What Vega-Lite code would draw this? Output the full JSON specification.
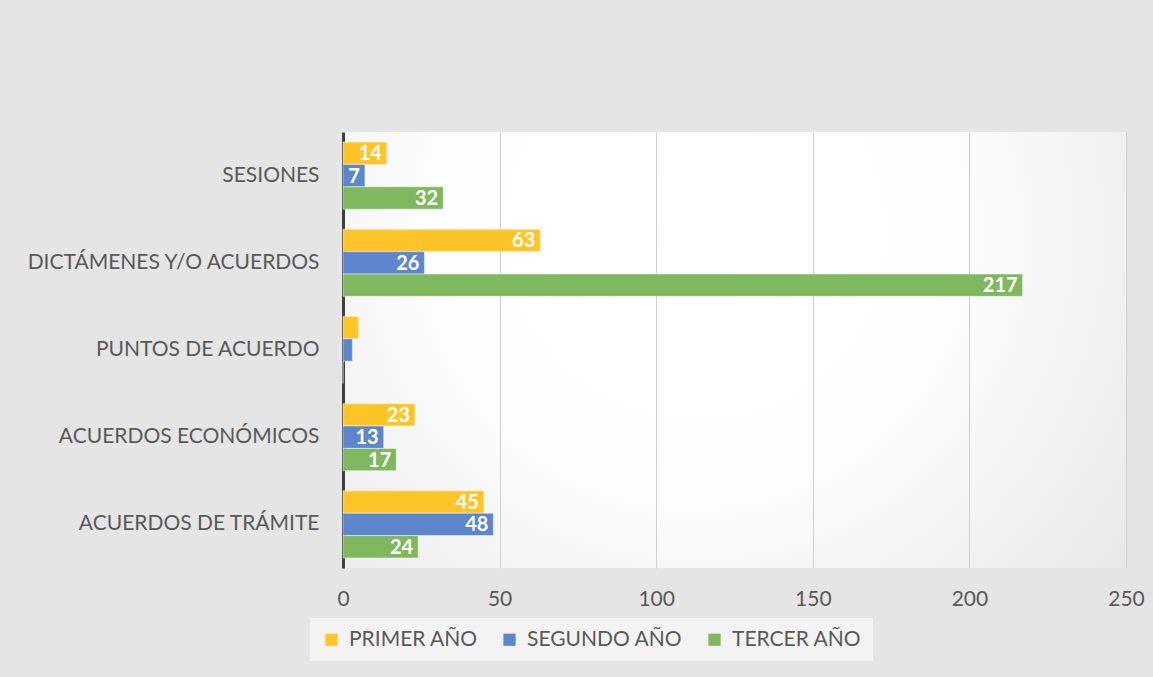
{
  "$schema": "https://vega.github.io/schema/vega-lite/v6.json",
  "width": 783,
  "height": 436,
  "autosize": {"type": "none"},
  "padding": {"left": 343, "top": 132, "right": 27, "bottom": 109},
  "background": "#e5e5e5",
  "config": {
    "font": "Lato",
    "view": {"stroke": null, "fill": {"gradient": "radial", "x1": 0.45, "y1": 0.35, "r1": 0, "x2": 0.45, "y2": 0.35, "r2": 0.75, "stops": [{"offset": 0, "color": "#ffffff"}, {"offset": 0.45, "color": "#fdfdfd"}, {"offset": 1, "color": "#e5e5e5"}]}},
    "axis": {"labelFont": "Lato", "labelColor": "#595959", "labelFontSize": 21, "title": null}
  },
  "data": {"values": [
    {"categoria": "SESIONES", "serie": "PRIMER AÑO", "valor": 14},
    {"categoria": "SESIONES", "serie": "SEGUNDO AÑO", "valor": 7},
    {"categoria": "SESIONES", "serie": "TERCER AÑO", "valor": 32},
    {"categoria": "DICTÁMENES Y/O ACUERDOS", "serie": "PRIMER AÑO", "valor": 63},
    {"categoria": "DICTÁMENES Y/O ACUERDOS", "serie": "SEGUNDO AÑO", "valor": 26},
    {"categoria": "DICTÁMENES Y/O ACUERDOS", "serie": "TERCER AÑO", "valor": 217},
    {"categoria": "PUNTOS DE ACUERDO", "serie": "PRIMER AÑO", "valor": 5},
    {"categoria": "PUNTOS DE ACUERDO", "serie": "SEGUNDO AÑO", "valor": 3},
    {"categoria": "PUNTOS DE ACUERDO", "serie": "TERCER AÑO", "valor": 0},
    {"categoria": "ACUERDOS ECONÓMICOS", "serie": "PRIMER AÑO", "valor": 23},
    {"categoria": "ACUERDOS ECONÓMICOS", "serie": "SEGUNDO AÑO", "valor": 13},
    {"categoria": "ACUERDOS ECONÓMICOS", "serie": "TERCER AÑO", "valor": 17},
    {"categoria": "ACUERDOS DE TRÁMITE", "serie": "PRIMER AÑO", "valor": 45},
    {"categoria": "ACUERDOS DE TRÁMITE", "serie": "SEGUNDO AÑO", "valor": 48},
    {"categoria": "ACUERDOS DE TRÁMITE", "serie": "TERCER AÑO", "valor": 24}
  ]},
  "encoding": {
    "y": {
      "field": "categoria", "type": "nominal",
      "sort": ["SESIONES", "DICTÁMENES Y/O ACUERDOS", "PUNTOS DE ACUERDO", "ACUERDOS ECONÓMICOS", "ACUERDOS DE TRÁMITE"],
      "scale": {"paddingInner": 0.23, "paddingOuter": 0.115},
      "axis": {"ticks": false, "labelPadding": 24, "labelLimit": 0, "domainColor": "#404040", "domainWidth": 3, "grid": false}
    },
    "yOffset": {"field": "serie", "type": "nominal", "sort": ["PRIMER AÑO", "SEGUNDO AÑO", "TERCER AÑO"]},
    "x": {
      "field": "valor", "type": "quantitative",
      "scale": {"domain": [0, 250], "nice": false},
      "axis": {"values": [0, 50, 100, 150, 200, 250], "domain": false, "ticks": false, "labelFlush": false, "labelPadding": 20, "gridColor": "#cfcfcf", "gridWidth": 1}
    }
  },
  "layer": [
    {
      "mark": {"type": "bar", "stroke": "#ffffff", "strokeOpacity": 0.45, "strokeWidth": 1},
      "encoding": {
        "color": {
          "field": "serie", "type": "nominal",
          "sort": ["PRIMER AÑO", "SEGUNDO AÑO", "TERCER AÑO"],
          "scale": {"domain": ["PRIMER AÑO", "SEGUNDO AÑO", "TERCER AÑO"], "range": ["#FFC528", "#5E86CC", "#80B860"]},
          "legend": {
            "title": null, "orient": "none", "direction": "horizontal", "columns": 3,
            "legendX": -33, "legendY": 486,
            "symbolType": "square", "symbolSize": 150, "symbolStrokeWidth": 0,
            "labelFont": "Lato", "labelFontSize": 21, "labelColor": "#595959",
            "columnPadding": 21, "padding": 11, "fillColor": "#f3f3f3", "labelOffset": 7
          }
        }
      }
    },
    {
      "transform": [{"filter": "datum.valor >= 7"}],
      "mark": {"type": "text", "align": "right", "baseline": "middle", "dx": -5, "dy": 1, "color": "#ffffff", "fontWeight": "bold", "fontSize": 20, "font": "Lato"},
      "encoding": {"text": {"field": "valor", "type": "quantitative"}}
    }
  ]
}
